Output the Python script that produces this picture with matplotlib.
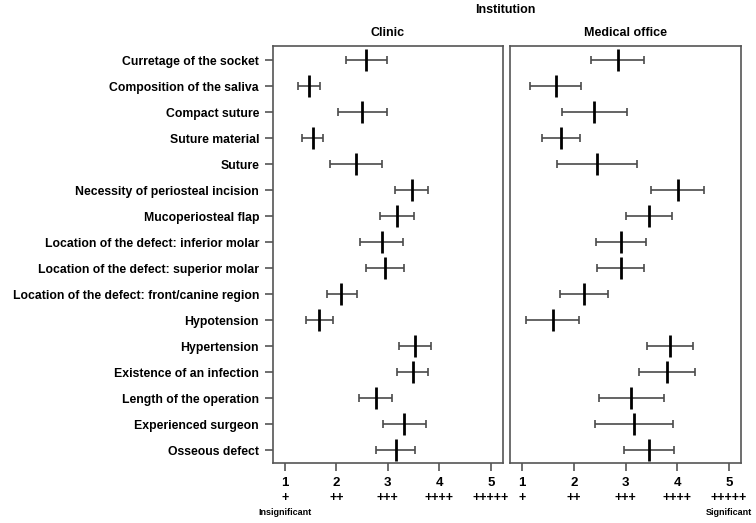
import matplotlib.pyplot as plt
import numpy as np

plt.rcParams['font.family'] = ['Liberation Sans', 'DejaVu Sans']

factors = [
    "Curretage of the socket",
    "Composition of the saliva",
    "Compact suture",
    "Suture material",
    "Suture",
    "Necessity of periosteal incision",
    "Mucoperiosteal flap",
    "Location of the defect: inferior molar",
    "Location of the defect: superior molar",
    "Location of the defect: front/canine region",
    "Hypotension",
    "Hypertension",
    "Existence of an infection",
    "Length of the operation",
    "Experienced surgeon",
    "Osseous defect",
]

# Clinic: mean, lower, upper
clinic_mean = [2.58, 1.47, 2.50, 1.55, 2.38, 3.46, 3.18, 2.88, 2.95, 2.10, 1.67, 3.53, 3.48, 2.77, 3.32, 3.15]
clinic_lo = [2.18, 1.25, 2.03, 1.34, 1.88, 3.14, 2.85, 2.46, 2.58, 1.81, 1.41, 3.21, 3.18, 2.45, 2.91, 2.77]
clinic_hi = [2.98, 1.69, 2.98, 1.75, 2.88, 3.77, 3.50, 3.29, 3.32, 2.40, 1.93, 3.84, 3.78, 3.09, 3.75, 3.53]

# Medical office: mean, lower, upper
office_mean = [2.86, 1.65, 2.40, 1.75, 2.45, 4.01, 3.45, 2.91, 2.91, 2.20, 1.60, 3.86, 3.81, 3.11, 3.16, 3.45]
office_lo = [2.34, 1.16, 1.78, 1.38, 1.68, 3.50, 3.01, 2.43, 2.45, 1.73, 1.08, 3.42, 3.26, 2.48, 2.41, 2.98]
office_hi = [3.36, 2.14, 3.02, 2.12, 3.22, 4.51, 3.90, 3.39, 3.36, 2.67, 2.11, 4.30, 4.35, 3.74, 3.91, 3.93]

ticks = [1, 2, 3, 4, 5]
plus_labels = ["+", "++", "+++", "++++", "+++++"]

fig = plt.figure(figsize=(7.56, 5.23), dpi=100)
ax1 = fig.add_axes([0.361, 0.1147, 0.304, 0.797])
ax2 = fig.add_axes([0.6746, 0.1147, 0.3056, 0.797])

y = np.arange(len(factors))
edge = '#555555'

for ax, m, lo, hi, title in [(ax1, clinic_mean, clinic_lo, clinic_hi, "Clinic"),
                              (ax2, office_mean, office_lo, office_hi, "Medical office")]:
    m = np.array(m)
    err = [m - np.array(lo), np.array(hi) - m]
    ax.errorbar(m, y, xerr=err, fmt='none', ecolor='#4a4a4a', elinewidth=1.2,
                capsize=3, capthick=1.2)
    ax.plot(m, y, linestyle='none', marker='|', markersize=16, mew=2.0, color='black')
    ax.set_xlim(0.77, 5.23)
    ax.set_ylim(15.5, -0.55)
    ax.set_xticks(ticks)
    ax.set_xticklabels([str(t) for t in ticks], fontsize=9.5, fontweight='bold')
    ax.tick_params(axis='x', length=6, width=1.2, color=edge, pad=4)
    for s in ax.spines.values():
        s.set_color(edge)
        s.set_linewidth(1.2)
    ax.set_title(title, fontsize=9, fontweight='bold', pad=7)
    for t, p in zip(ticks, plus_labels):
        ax.text(t, -0.085, p, transform=ax.get_xaxis_transform(), ha='center',
                va='center', fontsize=9, fontweight='bold')

ax1.set_yticks(y)
ax1.set_yticklabels(factors, fontsize=8.8, fontweight='bold')
ax1.tick_params(axis='y', length=6, width=1.2, color=edge, pad=4)
ax2.set_yticks([])

ax1.text(1, -0.118, "Insignificant", transform=ax1.get_xaxis_transform(),
         ha='center', va='center', fontsize=6.5, fontweight='bold')
ax2.text(5, -0.118, "Significant", transform=ax2.get_xaxis_transform(),
         ha='center', va='center', fontsize=6.5, fontweight='bold')

fig.text(0.668, 0.98, "Institution", ha='center', va='center', fontsize=9, fontweight='bold')

fig.savefig("out.png", dpi=100)
